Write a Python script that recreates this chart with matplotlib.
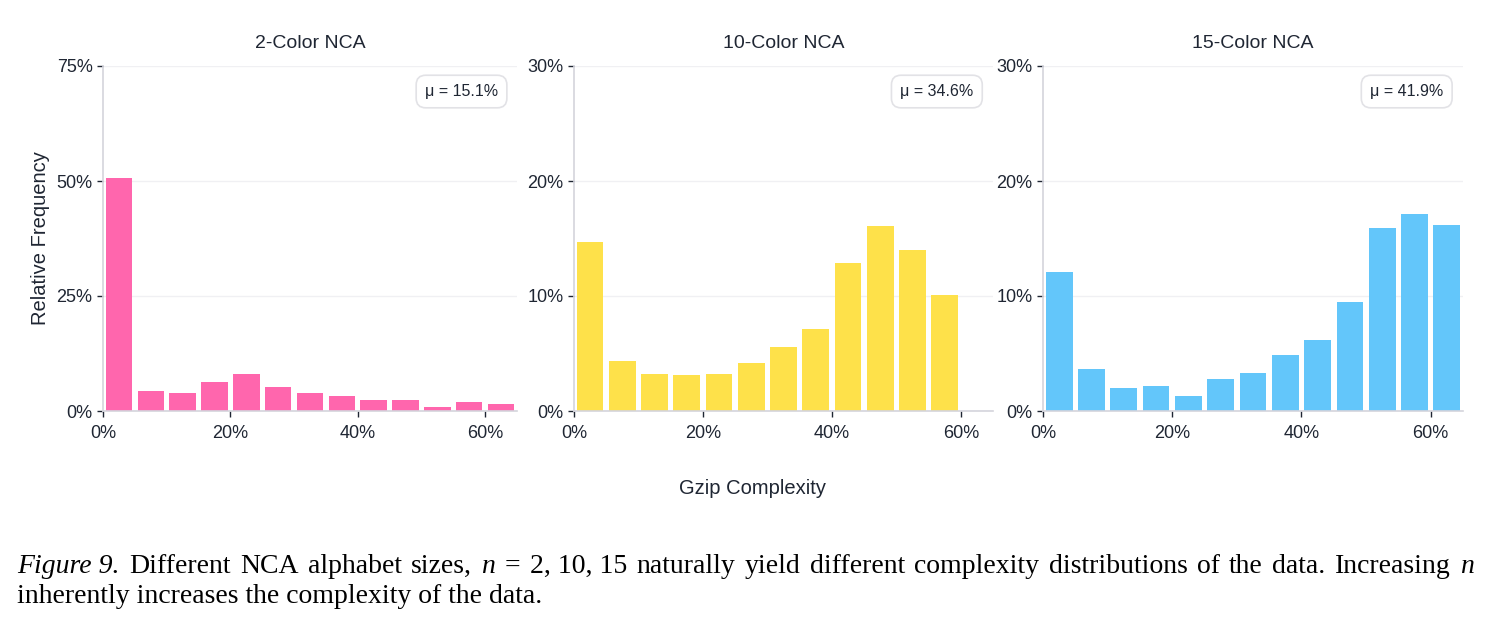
import numpy as np
import matplotlib.pyplot as plt
from matplotlib.ticker import PercentFormatter

# histogram heights (% of samples) per 5% gzip complexity bin
bins_left = [0, 5, 10, 15, 20, 25, 30, 35, 40, 45, 50, 55, 60]
freq_2 = [50.7, 4.3, 4.0, 6.2, 8.1, 5.3, 4.0, 3.2, 2.5, 2.5, 0.9, 2.0, 1.5]
freq_10 = [14.7, 4.35, 3.2, 3.1, 3.2, 4.2, 5.6, 7.1, 12.9, 16.1, 14.0, 10.1]
freq_15 = [12.1, 3.65, 2.0, 2.2, 1.3, 2.8, 3.3, 4.9, 6.15, 9.45, 15.95, 17.15, 16.2]

titles = ["2-Color NCA", "10-Color NCA", "15-Color NCA"]
means = ["15.1%", "34.6%", "41.9%"]
colors = ["#FF66AD", "#FEE14A", "#63C6FA"]
ymax = [75, 30, 30]
yticks = [[0, 25, 50, 75], [0, 10, 20, 30], [0, 10, 20, 30]]

TXT = "#1f2633"
plt.rcParams['font.family'] = ['Liberation Sans', 'DejaVu Sans']

fig = plt.figure(figsize=(14.91, 6.29), dpi=100)
lefts = [103, 574, 1043]
widths = [414, 419, 420]

for i, freq in enumerate([freq_2, freq_10, freq_15]):
    ax = fig.add_axes([lefts[i] / 1491, 1 - 411 / 629, widths[i] / 1491, 345 / 629])
    x = np.array(bins_left[:len(freq)]) + 2.5
    ax.bar(x, freq, width=4.15, color=colors[i], edgecolor="none", zorder=2)
    ax.set_xlim(0, 65)
    ax.set_ylim(0, ymax[i])
    ax.set_xticks([0, 20, 40, 60])
    ax.set_yticks(yticks[i])
    ax.xaxis.set_major_formatter(PercentFormatter(decimals=0))
    ax.yaxis.set_major_formatter(PercentFormatter(decimals=0))
    ax.tick_params(labelsize=13, colors=TXT, length=4, width=1)
    ax.tick_params(axis="x", pad=6)
    ax.grid(axis="y", color="#f0f0f3", lw=1, zorder=0)
    for s in ["top", "right"]:
        ax.spines[s].set_visible(False)
    for s in ["left", "bottom"]:
        ax.spines[s].set_color("#d4d4dc")
        ax.spines[s].set_linewidth(1.2)
    ax.set_title(titles[i], fontsize=14, color=TXT, pad=13)
    ax.text(0.866, 0.926, "μ = " + means[i], transform=ax.transAxes, ha="center", va="center",
            fontsize=11.5, color=TXT,
            bbox=dict(boxstyle="round,pad=0.55,rounding_size=0.6", fc="white", ec="#e2e2e6", lw=1.2))
    if i == 0:
        ax.set_ylabel("Relative Frequency", fontsize=14.5, color=TXT, labelpad=5)

fig.text(752 / 1491, 1 - 488 / 629, "Gzip Complexity", ha="center", va="center", fontsize=14.5, color=TXT)

# caption, first line justified like the paper
cap_words = [("Figure 9.", "italic"), ("Different", "normal"), ("NCA", "normal"), ("alphabet", "normal"),
             ("sizes,", "normal"), ("n", "italic"), ("=", "normal"), ("2, 10, 15", "normal"),
             ("naturally", "normal"), ("yield", "normal"), ("different", "normal"), ("complexity", "normal"),
             ("distributions", "normal"), ("of", "normal"), ("the", "normal"), ("data.", "normal"),
             ("Increasing", "normal"), ("n", "italic")]
cap_line2 = "inherently increases the complexity of the data."

renderer = fig.canvas.get_renderer()
x0, x1 = 17, 1474
y1 = 1 - 573 / 629
items, total = [], 0
for w, st in cap_words:
    t = fig.text(0, y1, w, family="Liberation Serif", style=st, fontsize=20, va="baseline", ha="left")
    wd = t.get_window_extent(renderer).width
    items.append((t, wd))
    total += wd
gap = (x1 - x0 - total) / (len(items) - 1)
xc = x0
for t, wd in items:
    t.set_x(xc / 1491)
    xc += wd + gap
fig.text(x0 / 1491, 1 - 603 / 629, cap_line2, family="Liberation Serif", fontsize=20, va="baseline", ha="left")

fig.savefig("out.png", dpi=100)
